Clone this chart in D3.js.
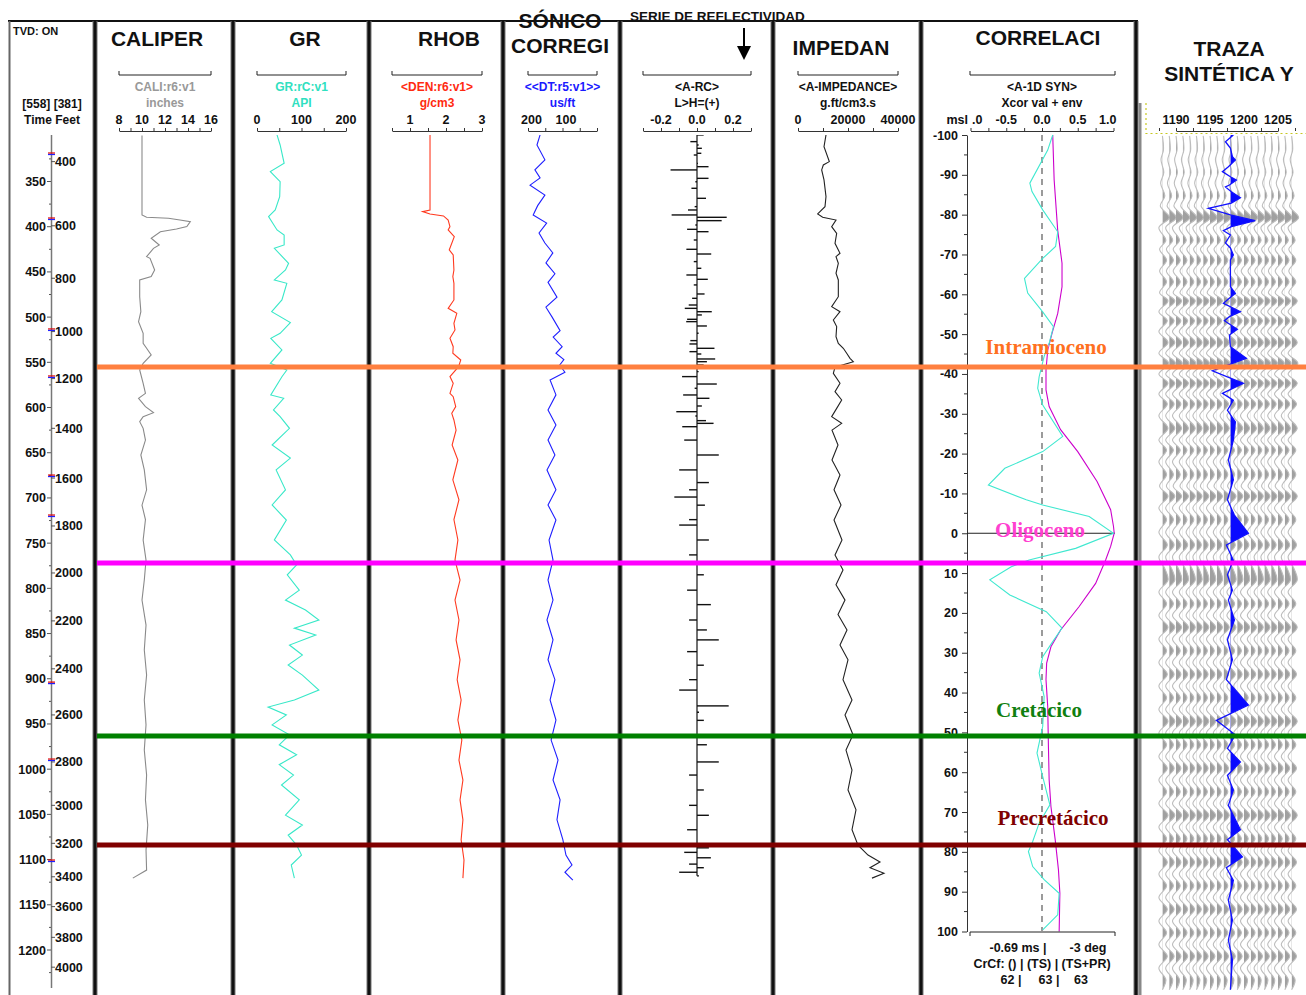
<!DOCTYPE html>
<html><head><meta charset="utf-8">
<script src="https://cdn.jsdelivr.net/npm/d3@7"></script>
<style>
body{margin:0;background:#fff}
svg{display:block}
text{font-weight:bold}
</style>
</head><body>
<svg id="chart" width="1306" height="995"></svg>
<script>
// ---------------- data (time in ms TWT) ----------------
const timeLabels = d3.range(350, 1201, 50);
const feetTicks = [[400,328],[600,399],[800,457],[1000,516],[1200,568],[1400,623],[1600,678],[1800,731],[2000,783],[2200,836],[2400,889],[2600,940],[2800,992],[3000,1040],[3200,1082],[3400,1119],[3600,1152],[3800,1186],[4000,1219]];
const checkshotTimes = [319.6,391.5,514.2,566.2,675.8,720,904.8,989.9,1101.6];

const caliper = [[299,10.0],[387,10.0],[389.6,10.4],[390.7,12.3],[392.6,13.3],[394.4,14.2],[399.9,13.9],[402.5,13.0],[405.5,11.6],[412.8,10.8],[420.2,11.5],[423.9,11.0],[433.1,10.4],[435,10.7],[447.9,11.1],[455.2,10.8],[458.9,9.8],[477.4,9.8],[494,9.9],[505,9.7],[517.9,10.1],[529,10.1],[534.5,10.4],[541.9,10.8],[551.1,10.1],[558.5,9.8],[573.2,10.1],[584.3,10.3],[589.8,9.7],[599,10.3],[605.7,11.0],[610.1,10.1],[615.6,9.8],[623,10.1],[636,10.3],[652.5,9.9],[669,10.2],[691,10.4],[708,10.0],[724,10.3],[746.5,10.1],[768.7,10.35],[790.8,10.2],[813,10.0],[840.6,10.35],[868.2,10.2],[895.9,10.4],[923.5,10.2],[951,10.35],[978.9,10.2],[1006.5,10.4],[1034,10.3],[1061.8,10.5],[1089.5,10.35],[1111.6,10.4],[1120.5,9.2]];

const gammaRay = [[298.5,45],[309.6,52],[329.9,61],[339.1,30],[350.2,52],[366.7,51],[381.5,41],[388.9,26],[403.6,45],[409.1,61],[420.2,61],[423.9,39],[440.5,71],[447.9,64],[458.9,39],[462.6,67],[481,56],[494,33],[506.1,75],[517.9,52],[523.4,31],[536.3,56],[551.1,30],[558.5,67],[565.9,56],[586.1,31],[589.8,60],[602.7,37],[610.1,52],[623,73],[641.5,34],[655.9,75],[669,43],[691,64],[707.8,34],[724.4,66],[746.5,39],[763,75],[774,89],[785,68],[802,95],[813,64],[824,109],[835,139],[844,84],[851.6,132],[862.7,73],[873.8,102],[884.8,70],[895.9,102],[912.5,139],[923.5,84],[931.3,25],[940,66],[951,34],[962,73],[973,50],[984,89],[995,50],[1006.5,82],[1017.5,55],[1034,95],[1050.8,64],[1061.8,102],[1073,70],[1084,89],[1095,100],[1106,77],[1120.5,84]];

const density = [[298.5,1.556],[381.5,1.556],[383.3,1.35],[385.9,1.556],[388.1,1.93],[392.6,2.06],[399.9,2.11],[403.6,2.06],[411,2.23],[425.7,2.09],[431.3,2.2],[447.9,2.22],[455.2,2.19],[462.6,2.22],[481,2.22],[490.3,2.06],[495.8,2.30],[506.9,2.22],[514.2,2.25],[523.4,2.11],[532.7,2.2],[540,2.19],[547.4,2.41],[554.8,2.35],[565.8,2.11],[573.2,2.2],[584.3,2.11],[588,2.2],[599,2.27],[606.4,2.16],[613.8,2.22],[625,2.28],[641.5,2.17],[658,2.33],[680,2.19],[702,2.36],[724,2.22],[746.5,2.33],[768.7,2.25],[790.8,2.39],[813,2.25],[835,2.36],[857,2.28],[879,2.39],[901,2.31],[923.5,2.42],[945.7,2.33],[967.8,2.44],[990,2.36],[1012,2.47],[1034,2.39],[1056,2.47],[1078,2.42],[1100.5,2.5],[1120.5,2.47]];

const sonic = [[298.5,175],[309.6,184],[326,161],[337,190],[346,175],[354,204],[365,161],[376.7,182],[387,195],[396,156],[407,178],[418,161],[429,138],[440,158],[452,132],[461.6,152],[478,126],[489,158],[500,140],[515,117],[522,137],[532.7,111],[540,129],[547,106],[553,118],[561,103],[569.6,146],[586,129],[602.7,152],[619.3,129],[635.9,152],[652.5,132],[669,155],[691,129],[707.8,152],[724.4,129],[746.5,149],[768.7,137.5],[790.8,152],[813,137.5],[835,155],[857,137.5],[879,152],[901,132],[923.5,146],[945.7,129],[967.8,143],[990,123],[1012,137.5],[1034,117],[1056,126],[1078,109],[1095,100],[1106,82.5],[1114,103],[1122.7,80]];

const reflectivity = [[298.5,0.037],[305.9,-0.037],[309.6,0.009],[313.3,0.027],[318.8,0.024],[320.7,-0.018],[329.9,0.005],[333.6,0.064],[337.2,-0.147],[346.5,0.064],[350.2,-0.009],[357.5,-0.031],[368.6,0.05],[377.8,-0.013],[381.5,-0.05],[387,-0.141],[389.6,0.165],[393.3,0.137],[398.1,-0.009],[402.9,-0.055],[405.5,0.064],[414.7,-0.018],[425,-0.059],[430.2,0.079],[438.6,-0.018],[446,0.024],[453.4,-0.059],[458.2,0.06],[464.4,-0.018],[474.4,0.042],[479.2,-0.027],[486.6,-0.046],[490.3,-0.068],[494,0.082],[497.6,0.027],[502.4,-0.055],[505,-0.06],[509.8,0.055],[517.9,0.009],[526,-0.037],[529.7,-0.042],[534.5,0.097],[538.2,-0.042],[540.8,0.024],[546.3,0.101],[549.3,0.055],[553,0.037],[560.3,0.009],[565.8,-0.083],[574,0.11],[578.7,-0.013],[586.1,-0.077],[589.8,0.069],[598.3,0.027],[604.6,-0.115],[609.3,-0.009],[614.5,0.05],[617.5,0.092],[621.2,-0.082],[636,-0.071],[652.5,0.121],[669,-0.099],[683,0.066],[691,-0.044],[699,-0.126],[708,0.044],[724,-0.044],[730,-0.099],[746.5,0.066],[763,-0.044],[785,0.038],[802,-0.055],[818,0.077],[835,-0.044],[846,0.055],[857,0.121],[870,-0.055],[885,0.038],[901,-0.044],[912.5,-0.099],[930,0.176],[937,0.011],[946,0.038],[962,-0.044],[973,0.055],[992,0.121],[1006.5,-0.044],[1023,0.038],[1040,-0.044],[1051,0.066],[1067,-0.055],[1087,0.066],[1092,-0.071],[1098,0.077],[1105,-0.044],[1109,0.038],[1114,-0.099],[1118,0.011]];

const impedance = [[298.5,11200],[311.4,10400],[328,12530],[331.7,10130],[337.2,9470],[348.3,10400],[366.7,11200],[377.8,10800],[385.9,7870],[389.6,9870],[392.6,15200],[399.9,13470],[407.3,15470],[418.4,14800],[429.4,16800],[433.1,15200],[440.5,16130],[451.5,15200],[458.9,16130],[477.4,16130],[488.4,13470],[494,16800],[503.2,14130],[510.5,15470],[521.6,15200],[529,16130],[534.5,18130],[540,19470],[545.6,20800],[549.3,22130],[555.5,14800],[562.2,14130],[573.2,16800],[582.4,14800],[591.7,17470],[600.9,15470],[610.1,13470],[617.5,17470],[625,13600],[641.5,16000],[658,13600],[674.6,16800],[691,14400],[707.8,17200],[724.4,14400],[746.5,17600],[763,14800],[779.8,18000],[796,15200],[813,18800],[829,16000],[846,19600],[862.7,16800],[879,20000],[901,18000],[923.5,21600],[940,18800],[962,22000],[978.9,19200],[1001,21600],[1023,20000],[1045,23200],[1067,21600],[1084,24000],[1095,28000],[1102.7,32800],[1109,28800],[1115,34400],[1120.5,29600]];

// cross-correlation (lag ms, value) and its envelope
const xcor = [[-100,0.15],[-96.2,0.08],[-87.9,-0.17],[-85.8,-0.14],[-81.2,0.01],[-75.7,0.22],[-72,0.19],[-69,0.01],[-64,-0.245],[-60.3,-0.2],[-55.6,0.01],[-51.9,0.16],[-47.7,0.1],[-44.4,0.03],[-39.3,-0.04],[-36.4,-0.06],[-32.2,0.01],[-24.3,0.29],[-20.5,0.01],[-16.3,-0.52],[-12.1,-0.75],[-8.4,-0.22],[-7.1,0.01],[-4.2,0.66],[0,1.0],[3.8,0.47],[6.7,-0.18],[8.4,-0.43],[11.7,-0.73],[15.5,-0.45],[19.7,0.06],[23.8,0.28],[27.2,0.15],[31,0.01],[35.1,-0.04],[41,0.03],[48.5,0.01],[55.2,-0.07],[61.1,0.01],[68.2,0.11],[72.8,-0.04],[77.4,-0.13],[79.9,-0.19],[83.7,-0.13],[87,0.03],[90.4,0.24],[95.8,0.22],[99.6,0.01]];
const envelope = [[-100,0.15],[-88.7,0.17],[-76,0.22],[-67.8,0.28],[-61.9,0.28],[-55.2,0.22],[-50.2,0.14],[-46,0.08],[-41,0.056],[-36,0.056],[-31.8,0.1],[-26,0.26],[-20.5,0.5],[-13,0.77],[-5.9,0.96],[-1.7,1.0],[0,1.01],[3.3,0.96],[6.7,0.89],[12.6,0.75],[18.4,0.52],[24.3,0.26],[28.5,0.125],[32.6,0.065],[36.8,0.056],[43.5,0.08],[53.6,0.09],[61.9,0.1],[68.6,0.125],[77,0.185],[84.5,0.23],[90.4,0.25],[100,0.24]];

// seismic traces near the well and the synthetic trace
const traceNumbers = d3.range(1188, 1208);
const seismic = [[299.6,0],[315,0.15],[326,-0.2],[340,0.2],[352,-0.25],[366,0.35],[377,-0.3],[390,1.0],[401,-0.5],[415,0.5],[425,-0.4],[437,0.6],[449,-0.4],[461,0.6],[473,-0.4],[482,0.8],[494,-0.5],[504,0.7],[516,-0.5],[528,0.8],[540,-0.5],[551,0.9],[563,-0.5],[573,0.8],[585,-0.5],[596,0.7],[609,-0.5],[623,0.8],[636,-0.5],[647,0.6],[660,-0.5],[674,0.6],[687,-0.4],[698,0.8],[711,-0.5],[724,0.6],[738,-0.5],[752,0.7],[765,-0.5],[779,0.4],[791,0.8],[804,-0.5],[817,0.6],[830,-0.5],[843,0.8],[856,-0.5],[869,0.6],[882,-0.5],[895,0.7],[908,-0.5],[921,0.6],[934,-0.5],[947,0.8],[960,-0.5],[973,0.6],[986,-0.5],[999,0.7],[1012,-0.5],[1025,0.6],[1038,-0.5],[1051,0.8],[1064,-0.5],[1077,0.6],[1090,-0.5],[1103,0.7],[1116,-0.5],[1129,0.6],[1142,-0.5],[1155,0.7],[1168,-0.5],[1181,0.6],[1194,-0.5],[1207,0.7],[1220,-0.5],[1233,0.5],[1244,0]];
const synthetic = [[298.5,0.37],[306,-0.62],[313,0],[322.5,0.25],[326.2,0.62],[333.6,-0.25],[339.1,-1.0],[344.7,0],[348.3,0.75],[353.9,-0.12],[356,-0.62],[361.3,0.12],[367.9,1.25],[373.8,0.12],[379.6,-2.75],[387,0],[393.3,3.1],[400,0.12],[404.4,-0.87],[409.2,0],[418,-0.62],[423.5,0],[431.3,0.37],[436.8,0],[466.3,0],[473.7,0.62],[480,-0.25],[484.7,-0.87],[494,1.25],[499.5,-0.12],[504,-0.75],[513.5,0.87],[519.8,-0.12],[532.7,0],[545.6,2.0],[559.3,-2.25],[573.2,1.62],[584.3,-1.0],[592,0.37],[603,-0.37],[616,0.62],[636,0.37],[658,-0.25],[680,0.37],[702,-0.37],[719,0.5],[739,2.25],[752,-0.5],[769,0.37],[785,-0.37],[802,0.25],[813,-0.25],[835,0.5],[857,-0.37],[879,0.25],[901,-0.5],[929,2.25],[946,-1.75],[962,0.62],[977,-0.37],[992,1.25],[1007,-0.37],[1023,0.37],[1040,-0.25],[1067,1.25],[1078,-0.37],[1097,1.5],[1109,-0.5],[1123,0.37],[1145,-0.25],[1167,0.25],[1189,-0.25],[1211,0.25],[1244,0]];
const syntheticTrace = 1198;

// formation tops
const tops = ['Intramioceno','Oligoceno','Cretácico','Precretácico'];
const topTimes = [555.2, 772, 963.3, 1084];
const topLineColors = ['#ff8040','#ff00ff','#008000','#800000'];
const topTextColors = ['#ff7020','#ff40d0','#108010','#800000'];

// ---------------- layout ----------------
const svg = d3.select('#chart');
const SANS = '"Liberation Sans",Arial,Helvetica,sans-serif';
const SERIF = '"Liberation Serif","Times New Roman",serif';
const yT = d3.scaleLinear().domain([350,1200]).range([181.5,950]);
const PLOT_TOP = 135, PLOT_BOT = 995;

function txt(g, x, y, s, opt={}) {
  return g.append('text').attr('x',x).attr('y',y).text(s)
    .style('font-size',(opt.size||12)+'px').attr('fill',opt.color||'#111')
    .attr('text-anchor',opt.anchor||'middle')
    .style('font-family',opt.family||SANS)
    .style('font-weight','bold');
}

const defs = svg.append('defs');
function clip(id, x0, x1, y0=PLOT_TOP, y1=PLOT_BOT) {
  defs.append('clipPath').attr('id',id).append('rect').attr('x',x0).attr('y',y0).attr('width',x1-x0).attr('height',y1-y0);
  return `url(#${id})`;
}

// header scale: bracket, mnemonic, unit, tick labels and axis line
function scaleHeader(sc, name, unit, color, ticks, labels, fmt) {
  const r = sc.range(), lo = Math.min(...r), hi = Math.max(...r);
  const g = svg.append('g');
  g.append('path').attr('d',`M${lo},71V75H${hi}V71`).attr('fill','none').attr('stroke','#222').attr('stroke-width',1);
  txt(g,(lo+hi)/2,91,name,{color});
  txt(g,(lo+hi)/2,107,unit,{color});
  const ax = d3.axisTop(sc).tickValues(ticks).tickSize(3).tickSizeOuter(0).tickFormat('');
  const a = g.append('g').attr('transform','translate(0,131)').call(ax);
  a.select('.domain').attr('stroke','#333');
  a.selectAll('.tick line').attr('stroke','#333');
  labels.forEach(v => txt(g, sc(v), 124, fmt ? fmt(v) : String(v), {size:12.5}));
  return g;
}

const line = (sx) => d3.line().x(d=>sx(d[1])).y(d=>yT(d[0]));

// ---------------- depth track ----------------
{
  const g = svg.append('g');
  txt(g,13,35,'TVD: ON',{size:11,anchor:'start'});
  txt(g,52,108,'[558] [381]',{size:12});
  txt(g,52,124,'Time Feet',{size:12});
  g.append('line').attr('x1',51.5).attr('x2',51.5).attr('y1',135).attr('y2',988).attr('stroke','#777').attr('stroke-width',1.5);
  d3.range(325,1250,25).forEach(t => {
    if (yT(t) < 136 || yT(t) > 986) return;
    const major = t % 50 === 0;
    g.append('line').attr('x1',major?47:49).attr('x2',51).attr('y1',yT(t)).attr('y2',yT(t)).attr('stroke','#555');
  });
  timeLabels.forEach(t => txt(g,46,yT(t)+4.5,String(t),{size:12.5,anchor:'end'}));
  feetTicks.forEach(([ft,t]) => {
    g.append('line').attr('x1',51).attr('x2',55).attr('y1',yT(t)).attr('y2',yT(t)).attr('stroke','#555');
    txt(g,55,yT(t)+4.5,String(ft),{size:12.5,anchor:'start'});
  });
  checkshotTimes.forEach(t => {
    g.append('line').attr('x1',48).attr('x2',55).attr('y1',yT(t)-1).attr('y2',yT(t)-1).attr('stroke','#e00000').attr('stroke-width',1.2);
    g.append('line').attr('x1',48).attr('x2',55).attr('y1',yT(t)+0.5).attr('y2',yT(t)+0.5).attr('stroke','#2020ff').attr('stroke-width',1.2);
  });
}

// ---------------- caliper ----------------
const xCal = d3.scaleLinear().domain([8,16]).range([119,211]);
txt(svg,157,46,'CALIPER',{size:21});
scaleHeader(xCal,'CALI:r6:v1','inches','#999',d3.range(8,16.01,1),[8,10,12,14,16]);
svg.append('path').datum(caliper).attr('d',line(xCal)).attr('fill','none').attr('stroke','#8a8a8a').attr('stroke-width',1.1).attr('clip-path',clip('cCal',97,231));

// ---------------- gamma ray ----------------
const xGR = d3.scaleLinear().domain([0,200]).range([257,346]);
txt(svg,305,46,'GR',{size:21});
scaleHeader(xGR,'GR:rC:v1','API','#30e0c0',d3.range(0,201,50),[0,100,200]);
svg.append('path').datum(gammaRay).attr('d',line(xGR)).attr('fill','none').attr('stroke','#38e8c8').attr('stroke-width',1.1).attr('clip-path',clip('cGR',235,367));

// ---------------- density ----------------
const xDen = d3.scaleLinear().domain([0.5,3]).range([392,482]);
txt(svg,449,46,'RHOB',{size:21});
scaleHeader(xDen,'<DEN:r6:v1>','g/cm3','#ff2a10',d3.range(0.5,3.01,0.5),[1,2,3]);
svg.append('path').datum(density).attr('d',line(xDen)).attr('fill','none').attr('stroke','#ff3a20').attr('stroke-width',1.1).attr('clip-path',clip('cDen',371,501));

// ---------------- sonic ----------------
const xDT = d3.scaleLinear().domain([210,10]).range([528,597]);
txt(svg,560,28,'SÓNICO',{size:21});
txt(svg,560,53,'CORREGI',{size:21});
scaleHeader(xDT,'<<DT:r5:v1>>','us/ft','#1a1aff',d3.range(210,9,-50),[200,100]);
svg.append('path').datum(sonic).attr('d',line(xDT)).attr('fill','none').attr('stroke','#1f1fff').attr('stroke-width',1.1).attr('clip-path',clip('cDT',505,618));

// ---------------- reflectivity ----------------
const xRC = d3.scaleLinear().domain([-0.3,0.3]).range([643,751]);
scaleHeader(xRC,'<A-RC>','L>H=(+)','#111',d3.range(-0.3,0.301,0.1),[-0.2,0,0.2],v=>v.toFixed(1));
{
  const g = svg.append('g').attr('clip-path',clip('cRC',622,771));
  g.append('line').attr('x1',xRC(0)).attr('x2',xRC(0)).attr('y1',yT(reflectivity[0][0])).attr('y2',yT(reflectivity[reflectivity.length-1][0])).attr('stroke','#111').attr('stroke-width',1.2);
  g.selectAll('line.rc').data(reflectivity).join('line').attr('class','rc')
    .attr('x1',xRC(0)).attr('x2',d=>xRC(d[1])).attr('y1',d=>yT(d[0])).attr('y2',d=>yT(d[0]))
    .attr('stroke','#111').attr('stroke-width',1.4);
}
txt(svg,630,21,'SERIE DE REFLECTIVIDAD',{size:13.5,anchor:'start'});
svg.append('line').attr('x1',744).attr('x2',744).attr('y1',28).attr('y2',48).attr('stroke','#000').attr('stroke-width',2);
svg.append('path').attr('d','M737,46L751,46L744,60Z').attr('fill','#000');

// ---------------- impedance ----------------
const xImp = d3.scaleLinear().domain([0,40000]).range([798,898]);
txt(svg,841,55,'IMPEDAN',{size:21});
scaleHeader(xImp,'<A-IMPEDANCE>','g.ft/cm3.s','#111',d3.range(0,40001,10000),[0,20000,40000]);
svg.append('path').datum(impedance).attr('d',line(xImp)).attr('fill','none').attr('stroke','#222').attr('stroke-width',1.1).attr('clip-path',clip('cImp',775,919));

// ---------------- correlation ----------------
const xCor = d3.scaleLinear().domain([-1,1]).range([970.5,1113.5]);
const yLag = d3.scaleLinear().domain([-100,100]).range([135,931.5]);
txt(svg,1038,45,'CORRELACI',{size:21});
{
  const g = svg.append('g');
  g.append('path').attr('d',`M970,71V75H1115V71`).attr('fill','none').attr('stroke','#222');
  txt(g,1042,91,'<A-1D SYN>');
  txt(g,1042,107,'Xcor val + env');
  const ax = d3.axisTop(xCor).tickValues(d3.range(-1,1.001,0.25)).tickSize(3).tickSizeOuter(0).tickFormat('');
  const a = g.append('g').attr('transform','translate(0,131)').call(ax);
  a.select('.domain').attr('stroke','#333'); a.selectAll('.tick line').attr('stroke','#333');
  [-0.5,0,0.5].forEach(v => txt(g,xCor(v),124,v.toFixed(1),{size:12.5}));
  txt(g,xCor(1)+3,124,'1.0',{size:12.5,anchor:'end'});
  txt(g,968,124,'msl',{size:12.5,anchor:'end'});
  txt(g,972,124,'.0',{size:12.5,anchor:'start'});
  const la = d3.axisLeft(yLag).tickValues(d3.range(-100,101,10)).tickSize(5).tickSizeOuter(0).tickFormat(d=>String(d));
  const lg = g.append('g').attr('transform','translate(967,0)').call(la);
  lg.select('.domain').attr('stroke','#333');
  lg.selectAll('.tick line').attr('stroke','#333');
  lg.selectAll('.tick text').style('font-size','12.5px').style('font-family',SANS).style('font-weight','bold').attr('fill','#111').attr('dx',-1);
  d3.range(-95,100,10).forEach(v => g.append('line').attr('x1',964).attr('x2',967).attr('y1',yLag(v)).attr('y2',yLag(v)).attr('stroke','#333'));
  g.append('line').attr('x1',967).attr('x2',1115).attr('y1',yLag(0)).attr('y2',yLag(0)).attr('stroke','#222');
  g.append('line').attr('x1',xCor(0)).attr('x2',xCor(0)).attr('y1',135).attr('y2',931).attr('stroke','#666').attr('stroke-width',1.3).attr('stroke-dasharray','6,5');
  const cl = d3.line().x(d=>xCor(d[1])).y(d=>yLag(d[0]));
  g.append('path').datum(envelope).attr('d',cl).attr('fill','none').attr('stroke','#cc00cc').attr('stroke-width',1.1);
  g.append('path').datum(xcor).attr('d',cl).attr('fill','none').attr('stroke','#40e8d0').attr('stroke-width',1.1);
  g.append('path').attr('d','M970,936V932H1115V936').attr('fill','none').attr('stroke','#222');
  txt(g,1018,952,'-0.69 ms |',{size:12.5});
  txt(g,1088,952,'-3 deg',{size:12.5});
  txt(g,1042,968,'CrCf: () | (TS) | (TS+PR)',{size:12.5});
  txt(g,1011,984,'62 |',{size:12.5});
  txt(g,1049,984,'63 |',{size:12.5});
  txt(g,1081,984,'63',{size:12.5});
}

// ---------------- seismic traces + synthetic ----------------
const xTr = d3.scaleLinear().domain([1190,1205]).range([1176,1278]);
const ampPx = 7, synPx = 8;
txt(svg,1229,56,'TRAZA',{size:21});
txt(svg,1229,81,'SINTÉTICA Y',{size:21});
{
  const g = svg.append('g');
  const ax = d3.axisTop(xTr).tickValues(d3.range(1187.5,1207.6,2.5)).tickSize(3).tickSizeOuter(0).tickFormat('');
  const a = g.append('g').attr('transform','translate(0,131)').call(ax);
  a.select('.domain').attr('stroke','#333'); a.selectAll('.tick line').attr('stroke','#333');
  [1190,1195,1200,1205].forEach(v => txt(g,xTr(v),124,String(v),{size:12.5}));
  g.append('path').attr('d','M1146,103V133.5H1306').attr('fill','none').attr('stroke','#c8c820').attr('stroke-width',1.2).attr('stroke-dasharray','2,3');
  const tg = g.append('g').attr('clip-path',clip('cSeis',1142,1306,135,992));
  const drawTrace = (data, tr, gain, curve, color, fill, w, id) => {
    const x0 = xTr(tr);
    const cid = clip(id, x0, x0+40, 135, 992);
    tg.append('path').datum(data).attr('clip-path',cid)
      .attr('d', d3.area().x0(x0).x1(d=>x0+d[1]*gain).y(d=>yT(d[0])).curve(curve))
      .attr('fill', fill);
    tg.append('path').datum(data)
      .attr('d', d3.line().x(d=>x0+d[1]*gain).y(d=>yT(d[0])).curve(curve))
      .attr('fill','none').attr('stroke',color).attr('stroke-width',w);
  };
  traceNumbers.forEach((tr,i) => drawTrace(seismic, tr, ampPx, d3.curveCatmullRom, '#bdbdbd', '#a0a0a0', 1.1, 'ct'+i));
  drawTrace(synthetic, syntheticTrace, synPx, d3.curveLinear, '#1010ff', '#0a0aff', 1.3, 'csyn');
}

// ---------------- frame and track separators ----------------
{
  const g = svg.append('g');
  g.append('line').attr('x1',8).attr('x2',1138).attr('y1',21).attr('y2',21).attr('stroke','#111').attr('stroke-width',2);
  g.append('rect').attr('x',8.5).attr('y',21).attr('width',2).attr('height',974).attr('fill','#666');
  [95,233,369,503,620,773,921,1136].forEach(x => {
    g.append('rect').attr('x',x-2.5).attr('y',21).attr('width',5).attr('height',974).attr('fill','#777');
    g.append('rect').attr('x',x-1.5).attr('y',21).attr('width',3).attr('height',974).attr('fill','#111');
  });
  g.append('rect').attr('x',1138.5).attr('y',103).attr('width',3).attr('height',892).attr('fill','#888');
}

// ---------------- formation tops ----------------
const labelX = [1046,1040,1039,1053];
const labelDy = [-13,-26,-19,-20];
tops.forEach((name,i) => {
  const yy = yT(topTimes[i]);
  svg.append('line').attr('x1',97).attr('x2',1306).attr('y1',yy).attr('y2',yy).attr('stroke',topLineColors[i]).attr('stroke-width',5);
  txt(svg,labelX[i],yy+labelDy[i],name,{size:21,color:topTextColors[i],family:SERIF});
});
</script>
</body></html>
